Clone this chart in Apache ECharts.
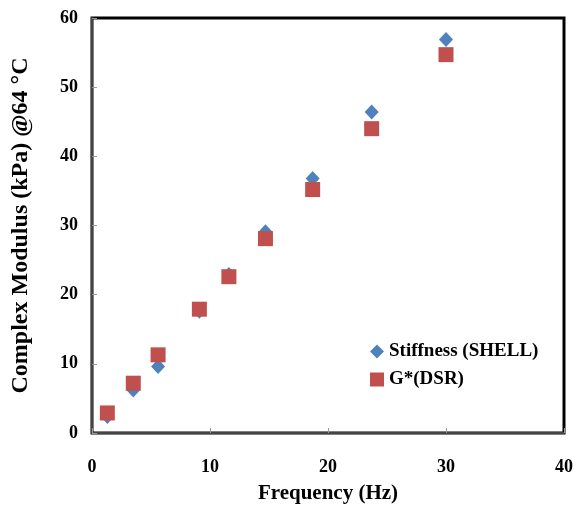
<!DOCTYPE html>
<html><head><meta charset="utf-8">
<script src="https://cdn.jsdelivr.net/npm/echarts@6/dist/echarts.min.js"></script>
<style>html,body{margin:0;padding:0;background:#fff}#c{width:574px;height:505px}</style>
</head><body><div id="c"></div>
<script>
const xTicks = [0, 10, 20, 30, 40];
const yTicks = [0, 10, 20, 30, 40, 50, 60];
const frequency = [1.3, 3.5, 5.6, 9.1, 11.6, 14.7, 18.7, 23.7, 30.0];
const stiffnessShell = [2.4, 6.2, 9.6, 17.6, 22.9, 29.1, 36.8, 46.4, 56.9];
const gStarDSR = [2.9, 7.2, 11.3, 17.9, 22.6, 28.1, 35.2, 44.0, 54.7];
const seriesNames = ['Stiffness (SHELL)', 'G*(DSR)'];

const font = '"Liberation Serif", "Times New Roman", serif';
const chart = echarts.init(document.getElementById('c'));
chart.setOption({
  animation: false,
  backgroundColor: '#fff',
  grid: { left: 92, right: 10, top: 18, bottom: 72, outerBoundsMode: 'none', containLabel: false,
    show: true, borderColor: '#000', borderWidth: 3, backgroundColor: 'transparent' },
  legend: {
    orient: 'vertical', left: 365, top: 337, itemGap: 9, itemWidth: 14, itemHeight: 14,
    textStyle: { fontFamily: font, fontWeight: 'bold', fontSize: 19, color: '#000' },
    data: [{ name: seriesNames[0], icon: 'diamond' }, { name: seriesNames[1], icon: 'rect' }]
  },
  xAxis: {
    type: 'value', min: xTicks[0], max: xTicks[xTicks.length - 1], interval: 10,
    name: 'Frequency (Hz)', nameLocation: 'middle', nameGap: 50,
    nameTextStyle: { fontFamily: font, fontWeight: 'bold', fontSize: 21, color: '#000' },
    axisLine: { lineStyle: { color: '#444', width: 2 } },
    axisTick: { inside: true, length: 5, lineStyle: { color: '#999' } },
    axisLabel: { margin: 25, fontFamily: font, fontWeight: 'bold', fontSize: 18, color: '#000' },
    splitLine: { show: false }
  },
  yAxis: {
    type: 'value', min: yTicks[0], max: yTicks[yTicks.length - 1], interval: 10,
    name: 'Complex Modulus (kPa) @64 °C', nameLocation: 'middle', nameGap: 59,
    nameTextStyle: { fontFamily: font, fontWeight: 'bold', fontSize: 24, color: '#000' },
    axisLine: { lineStyle: { color: '#444', width: 2 } },
    axisTick: { inside: true, length: 5, lineStyle: { color: '#999' } },
    axisLabel: { margin: 14, fontFamily: font, fontWeight: 'bold', fontSize: 18, color: '#000' },
    splitLine: { show: false }
  },
  series: [
    { name: seriesNames[0], type: 'scatter', symbol: 'diamond', symbolSize: [14, 15],
      itemStyle: { color: '#4F81BD', opacity: 1 }, data: frequency.map((f, i) => [f, stiffnessShell[i]]) },
    { name: seriesNames[1], type: 'scatter', symbol: 'rect', symbolSize: [15, 15],
      itemStyle: { color: '#C0504D', opacity: 1 }, data: frequency.map((f, i) => [f, gStarDSR[i]]) }
  ]
});
</script></body></html>
